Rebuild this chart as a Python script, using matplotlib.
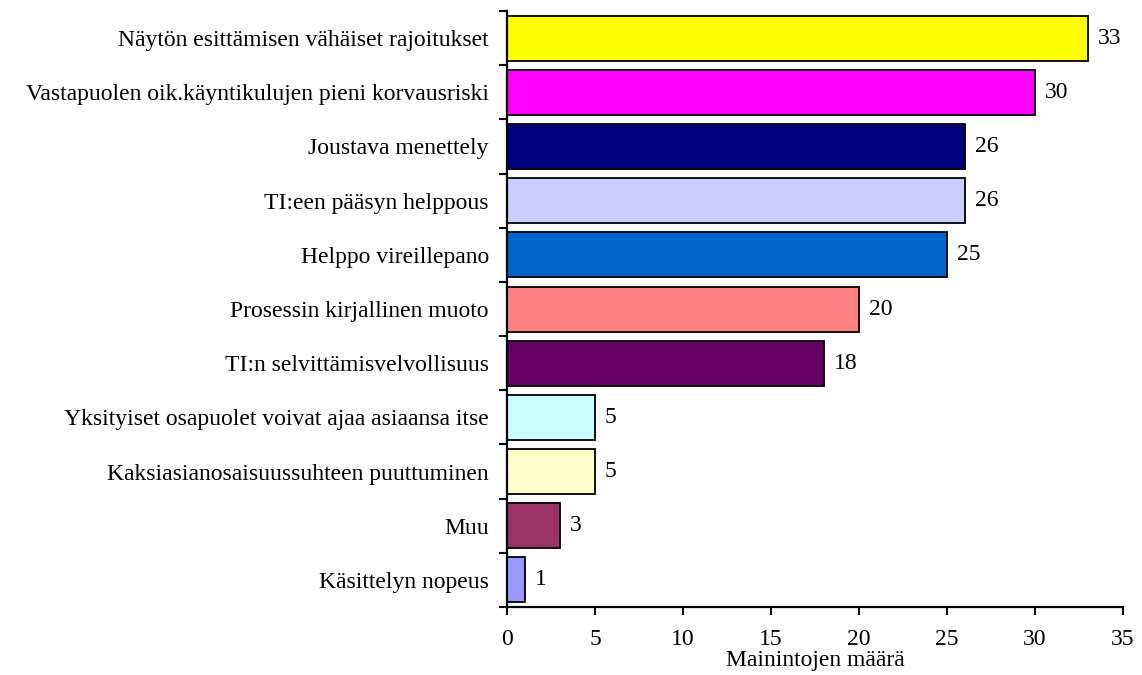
import numpy as np
import matplotlib
matplotlib.use("Agg")
import matplotlib.pyplot as plt

categories = [
    "Näytön esittämisen vähäiset rajoitukset",
    "Vastapuolen oik.käyntikulujen pieni korvausriski",
    "Joustava menettely",
    "TI:een pääsyn helppous",
    "Helppo vireillepano",
    "Prosessin kirjallinen muoto",
    "TI:n selvittämisvelvollisuus",
    "Yksityiset osapuolet voivat ajaa asiaansa itse",
    "Kaksiasianosaisuussuhteen puuttuminen",
    "Muu",
    "Käsittelyn nopeus",
]
values = [33, 30, 26, 26, 25, 20, 18, 5, 5, 3, 1]
colors = ["#FFFF00", "#FF00FF", "#000080", "#CCCCFF", "#0066CC", "#FF8080",
          "#660066", "#CCFFFF", "#FFFFCC", "#993366", "#9999FF"]
x_ticks = [0, 5, 10, 15, 20, 25, 30, 35]
x_label = "Mainintojen määrä"

plt.rcParams["font.family"] = ["Liberation Serif", "DejaVu Serif"]
plt.rcParams["font.size"] = 17

fig = plt.figure(figsize=(11.42, 6.75), dpi=100)
ax = fig.add_axes([0.444, 0.1007, 0.9834 - 0.444, 0.9837 - 0.1007])

n = len(categories)
pos = np.arange(n)
ax.barh(pos, values, height=0.83, color=colors, edgecolor="black", linewidth=1.3)

# value labels to the right of each bar
for p, v in zip(pos, values):
    ax.annotate(str(v), (v, p), xytext=(10, 0), textcoords="offset pixels",
                ha="left", va="center", fontsize=17)

ax.set_ylim(n - 0.5, -0.5)
ax.set_xlim(0, 35)
ax.set_xticks(x_ticks)
ax.set_xticklabels([str(t) for t in x_ticks])

# category labels centred, ticks on category boundaries
ax.set_yticks(pos)
ax.set_yticklabels(categories)
ax.tick_params(axis="y", which="major", length=0, pad=13)
ax.set_yticks(np.arange(n + 1) - 0.5, minor=True)
ax.tick_params(axis="y", which="minor", length=6, width=1.5, direction="out")
ax.tick_params(axis="x", length=6, width=1.5, direction="out", pad=10)

ax.set_xlabel(x_label, fontsize=17, labelpad=0)

for s in ["top", "right"]:
    ax.spines[s].set_visible(False)
for s in ["left", "bottom"]:
    ax.spines[s].set_linewidth(1.6)

fig.savefig("out.png", dpi=100)
